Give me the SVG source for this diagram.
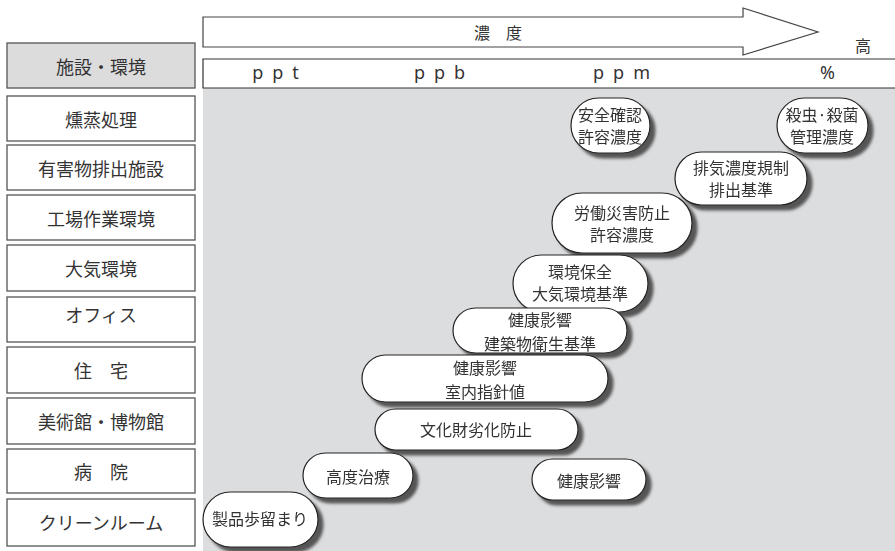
<svg xmlns="http://www.w3.org/2000/svg" width="895" height="551" viewBox="0 0 895 551">
<style>
.lb{fill:#fff;stroke:#555;stroke-width:1.3}
.lt{font-family:"Noto Sans CJK JP","Noto Sans",sans-serif;font-size:18px;fill:#333;text-anchor:middle;dominant-baseline:central}
.pl{fill:#fff;stroke:#222;stroke-width:1.2}
.pt{font-family:"Noto Sans CJK JP","Noto Sans",sans-serif;font-size:16px;fill:#333;text-anchor:middle;dominant-baseline:central}
.ut{font-family:"Noto Sans","Noto Sans CJK JP",sans-serif;font-size:18px;fill:#333;text-anchor:middle;dominant-baseline:central;letter-spacing:9px}
</style>
<defs>
<filter id="sh" x="-20%" y="-30%" width="150%" height="180%">
<feGaussianBlur in="SourceAlpha" stdDeviation="1.5" result="b"/>
<feOffset in="b" dx="5" dy="5" result="o"/>
<feFlood flood-color="#555"/>
<feComposite in2="o" operator="in" result="s"/>
<feMerge><feMergeNode in="s"/><feMergeNode in="SourceGraphic"/></feMerge>
</filter>
</defs>
<rect width="895" height="551" fill="#fff"/>
<rect x="203" y="88" width="692" height="463" fill="#dcdddf"/>
<g id="arrow">
<path d="M203,17 H743 V8 L818,32 L743,55 V47 H203 Z" fill="#fff" stroke="#444" stroke-width="1.2"/>
<text x="482" y="32" class="pt" font-size="15">濃</text>
<text x="514" y="32" class="pt" font-size="15">度</text>
<text x="863" y="45" class="pt" font-size="17">高</text>
</g>
<g id="units">
<path d="M895,59 H203 V88 H895" fill="#fff" stroke="#333" stroke-width="1.2"/>
<text x="280" y="72" class="ut">ppt</text>
<text x="444" y="72" class="ut">ppb</text>
<text x="626" y="72" class="ut">ppm</text>
<text x="832" y="72" class="ut" letter-spacing="0">%</text>
</g>
<g id="header"><rect x="7" y="43" width="188" height="45" fill="#dcdcdc" stroke="#555" stroke-width="1.3"/><text x="101" y="66" class="lt">施設・環境</text></g>
<g id="r1"><rect class="lb" x="7" y="96" width="188" height="45"/><text x="101" y="119" class="lt">燻蒸処理</text></g>
<g id="r2"><rect class="lb" x="7" y="145" width="188" height="45"/><text x="101" y="168" class="lt">有害物排出施設</text></g>
<g id="r3"><rect class="lb" x="7" y="195" width="188" height="45"/><text x="101" y="218" class="lt">工場作業環境</text></g>
<g id="r4"><rect class="lb" x="7" y="245" width="188" height="46"/><text x="101" y="268" class="lt">大気環境</text></g>
<g id="r5"><rect class="lb" x="7" y="297" width="188" height="45"/><text x="101" y="314" class="lt">オフィス</text></g>
<g id="r6"><rect class="lb" x="7" y="347" width="188" height="46"/><text x="101" y="370" class="lt">住　宅</text></g>
<g id="r7"><rect class="lb" x="7" y="398" width="188" height="46"/><text x="101" y="421" class="lt">美術館・博物館</text></g>
<g id="r8"><rect class="lb" x="7" y="449" width="188" height="44"/><text x="101" y="471" class="lt">病　院</text></g>
<g id="r9"><rect class="lb" x="7" y="499" width="188" height="47"/><text x="101" y="522" class="lt">クリーンルーム</text></g>
<g id="connectors"></g>
<g id="p1" filter="url(#sh)"><rect class="pl" x="571" y="98" width="79" height="55" rx="27.5"/><text x="610" y="114" class="pt">安全確認</text><text x="610" y="136" class="pt">許容濃度</text></g>
<g id="p2" filter="url(#sh)"><rect class="pl" x="777" y="98" width="91" height="55" rx="27.5"/><text x="822" y="114" class="pt">殺虫·殺菌</text><text x="822" y="136" class="pt">管理濃度</text></g>
<g id="p3" filter="url(#sh)"><rect class="pl" x="675" y="152" width="132" height="53" rx="26.5"/><text x="741" y="167" class="pt">排気濃度規制</text><text x="741" y="189" class="pt">排出基準</text></g>
<g id="p4" filter="url(#sh)"><rect class="pl" x="552" y="193" width="140" height="60" rx="30"/><text x="622" y="212" class="pt">労働災害防止</text><text x="622" y="234" class="pt">許容濃度</text></g>
<g id="p5" filter="url(#sh)"><rect class="pl" x="513" y="255" width="135" height="57" rx="28.5"/><text x="580" y="271" class="pt">環境保全</text><text x="580" y="293" class="pt">大気環境基準</text></g>
<g id="p6" filter="url(#sh)"><rect class="pl" x="453" y="308" width="174" height="45" rx="22.5"/><text x="540" y="318.5" class="pt" font-size="14">健康影響</text><text x="540" y="342.5" class="pt" font-size="14">建築物衛生基準</text></g>
<g id="p7" filter="url(#sh)"><rect class="pl" x="362" y="355" width="246" height="47" rx="23.5"/><text x="485" y="366.5" class="pt" font-size="14">健康影響</text><text x="485" y="390.5" class="pt" font-size="14">室内指針値</text></g>
<g id="p8" filter="url(#sh)"><rect class="pl" x="375" y="409" width="203" height="41" rx="20.5"/><text x="476" y="429" class="pt">文化財劣化防止</text></g>
<g id="p9" filter="url(#sh)"><rect class="pl" x="532" y="459" width="114" height="41" rx="20.5"/><text x="589" y="480" class="pt">健康影響</text></g>
<g id="p10" filter="url(#sh)"><rect class="pl" x="303" y="453" width="110" height="45" rx="22.5"/><text x="358" y="476" class="pt">高度治療</text></g>
<g id="p11" filter="url(#sh)"><rect class="pl" x="203" y="492" width="115" height="55" rx="27.5"/><text x="260" y="518" class="pt">製品歩留まり</text></g>
</svg>
